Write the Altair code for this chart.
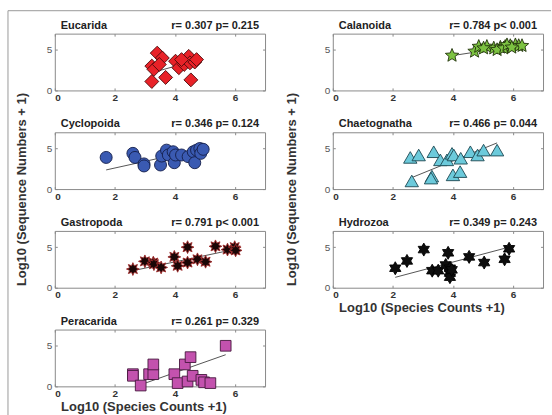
import math
import altair as alt
import pandas as pd

# ---------------- data ----------------
NAMES = ["Eucarida", "Calanoida", "Cyclopoida", "Chaetognatha", "Gastropoda", "Hydrozoa", "Peracarida"]
STATS = ["r= 0.307 p= 0.215", "r= 0.784 p< 0.001", "r= 0.346 p= 0.124", "r= 0.466 p= 0.044",
         "r= 0.791 p< 0.001", "r= 0.349 p= 0.243", "r= 0.261 p= 0.329"]

eucarida_x = [3.41, 3.58, 3.23, 3.30, 3.48, 3.23, 3.69, 4.02, 4.13, 4.31, 4.46, 4.50, 4.53, 4.66, 4.72, 4.22]
eucarida_y = [4.6, 4.0, 3.0, 2.6, 3.2, 1.1, 1.6, 3.6, 2.8, 3.2, 4.2, 3.4, 1.3, 3.5, 3.8, 3.8]
calanoida_x = [3.97, 4.72, 4.86, 5.13, 5.36, 5.58, 5.74, 5.91, 6.08, 6.19, 5.47, 5.69, 5.02, 6.30, 5.80, 5.96]
calanoida_y = [4.3, 4.8, 5.4, 5.4, 5.2, 5.3, 5.4, 5.5, 5.6, 5.5, 5.0, 5.2, 5.2, 5.5, 5.6, 5.3]
cyclopoida_x = [1.71, 2.60, 2.67, 2.97, 2.97, 3.52, 3.56, 3.72, 3.78, 3.94, 3.98, 4.02, 4.22, 4.44, 4.61,
                4.66, 4.72, 4.83, 4.86, 4.94]
cyclopoida_y = [3.9, 4.4, 3.9, 3.1, 2.85, 2.97, 4.07, 4.8, 4.2, 4.6, 3.25, 4.2, 4.2, 4.0, 4.6,
                3.25, 4.8, 5.0, 4.4, 4.9]
chaetognatha_x = [2.58, 2.86, 3.36, 3.30, 3.27, 2.63, 3.58, 3.80, 3.97, 4.03, 4.26, 4.00, 4.24, 4.58, 4.82, 5.02, 5.47]
chaetognatha_y = [3.9, 4.2, 4.6, 1.6, 1.35, 1.0, 3.6, 3.6, 4.4, 4.2, 3.8, 1.75, 2.15, 4.6, 4.2, 4.8, 4.8]
gastropoda_x = [2.60, 3.00, 3.28, 3.30, 3.54, 3.98, 4.09, 4.42, 4.42, 4.75, 5.02, 5.35, 5.75, 5.99, 6.02]
gastropoda_y = [2.3, 3.25, 3.1, 2.9, 2.5, 3.8, 2.7, 5.0, 3.1, 3.5, 3.2, 5.1, 4.7, 5.0, 4.6]
hydrozoa_x = [2.08, 2.47, 3.03, 3.31, 3.51, 3.76, 3.84, 3.90, 3.90, 3.90, 3.96, 4.54, 5.04, 5.72, 5.87]
hydrozoa_y = [2.4, 3.3, 4.7, 2.1, 2.1, 2.8, 4.3, 2.4, 1.8, 1.3, 2.2, 3.8, 3.1, 3.5, 4.8]
peracarida_x = [2.60, 2.60, 2.86, 3.14, 3.28, 3.28, 3.98, 4.09, 4.33, 4.52, 4.42, 4.59, 4.88, 4.97, 5.18, 5.69]
peracarida_y = [1.5, 1.3, 0.1, 1.5, 1.5, 2.7, 1.5, 0.4, 2.7, 3.6, 0.6, 1.3, 0.8, 0.5, 0.4, 5.0]

# fitted line end points
fit_x = [[3.2, 4.7], [4.0, 6.3], [1.71, 4.94], [2.58, 5.47], [2.6, 6.02], [2.08, 5.87], [2.86, 5.69]]
fit_y = [[2.15, 3.7], [4.3, 5.6], [2.36, 5.0], [1.34, 5.69], [2.1, 4.75], [1.28, 5.0], [0.2, 3.9]]

X_TICKS = [0, 2, 4, 6]
Y_TICKS = [0, 5]
X_TITLE = "Log10 (Species Counts +1)"
Y_TITLE = "Log10 (Sequence Numbers + 1)"

XS = [eucarida_x, calanoida_x, cyclopoida_x, chaetognatha_x, gastropoda_x, hydrozoa_x, peracarida_x]
YS = [eucarida_y, calanoida_y, cyclopoida_y, chaetognatha_y, gastropoda_y, hydrozoa_y, peracarida_y]


# ---------------- marker shapes (style only) ----------------
def star_path(n, r_in):
    pts = []
    for i in range(2 * n):
        a = -math.pi / 2 + i * math.pi / n
        r = 1.0 if i % 2 == 0 else r_in
        pts.append(f"{r * math.cos(a):.4f},{r * math.sin(a):.4f}")
    return "M" + "L".join(pts) + "Z"


PENTASTAR = star_path(5, 0.45)
HEXAGRAM = star_path(6, 0.577)
OCTOSTAR = star_path(8, 0.55)

STYLE = [
    dict(shape="diamond", size=195, fill="#e82228", stroke="#4a0a0a"),
    dict(shape=PENTASTAR, size=200, fill="#7cc241", stroke="#23330c"),
    dict(shape="circle", size=145, fill="#3a5ab2", stroke="#141e4a"),
    dict(shape="triangle-up", size=180, fill="#6ccadb", stroke="#1c4651"),
    dict(shape=OCTOSTAR, size=165, fill="#1a0606", stroke="#a02a2a"),
    dict(shape=HEXAGRAM, size=170, fill="#0d0d0d", stroke="#000000"),
    dict(shape="square", size=115, fill="#c352ae", stroke="#45183d"),
]

W, H = 211, 57
FONT = "Liberation Sans"
FRAME = "#8a8a8a"


def panel(i):
    df = pd.DataFrame({"x": XS[i], "y": YS[i]})
    fit = pd.DataFrame({"x": fit_x[i], "y": fit_y[i]})
    show_xt = NAMES[i] in ("Peracarida", "Hydrozoa")
    show_yt = NAMES[i] in ("Cyclopoida", "Chaetognatha")

    xaxis = dict(values=X_TICKS, grid=True, gridDash=[2.5, 52, 2.5, 300], gridColor=FRAME,
                 gridOpacity=1, ticks=False, domain=False, labelFontWeight="bold",
                 labelFontSize=10, labelPadding=2, labelColor="#333333", labelFont=FONT,
                 title=X_TITLE if show_xt else "")
    if show_xt:
        xaxis.update(titleX=89, titleY=20, titleBaseline="middle", titleAlign="center",
                     titleFontSize=13, titleFontWeight="bold", titleColor="#333333", titleFont=FONT)
    yaxis = dict(values=Y_TICKS, grid=True, gridDash=[2.5, 206, 2.5, 600], gridColor=FRAME,
                 gridOpacity=1, ticks=False, domain=False, labelFontSize=10, labelPadding=3,
                 labelColor="#555555", labelFont=FONT, title=Y_TITLE if show_yt else "")
    if show_yt:
        yaxis.update(titleX=-33 if i % 2 == 0 else -41, titleY=57, titleBaseline="middle",
                     titleAlign="center", titleAngle=270, titleFontSize=13, titleFontWeight="bold",
                     titleColor="#333333", titleFont=FONT)

    xenc = alt.X("x:Q", scale=alt.Scale(domain=[0, 7], nice=False, zero=False), axis=alt.Axis(**xaxis))
    yenc = alt.Y("y:Q", scale=alt.Scale(domain=[0, 7], nice=False, zero=False), axis=alt.Axis(**yaxis))

    st = STYLE[i]
    line = alt.Chart(fit).mark_line(color="#555555", strokeWidth=1).encode(x=xenc, y=yenc)
    pts = alt.Chart(df).mark_point(shape=st["shape"], size=st["size"], filled=True, fill=st["fill"],
                                   stroke=st["stroke"], strokeWidth=0.9, opacity=1).encode(x=xenc, y=yenc)
    name = alt.Chart(pd.DataFrame({"t": [NAMES[i]]})).mark_text(
        align="left", baseline="alphabetic", font=FONT, fontSize=11, fontWeight="bold", color="#222222"
    ).encode(text="t:N", x=alt.value(6), y=alt.value(-5))
    stat = alt.Chart(pd.DataFrame({"t": [STATS[i]]})).mark_text(
        align="right", baseline="alphabetic", font=FONT, fontSize=11, fontWeight="bold", color="#222222"
    ).encode(text="t:N", x=alt.value(205), y=alt.value(-5))
    layers = [line, pts, name, stat]
    if i == 0:
        one = pd.DataFrame({"k": [0]})
        top = alt.Chart(one).mark_rule(color="#9a9a9a", strokeWidth=1).encode(
            x=alt.value(-47), x2=alt.value(498), y=alt.value(-23))
        left = alt.Chart(one).mark_rule(color="#9a9a9a", strokeWidth=1).encode(
            x=alt.value(-47), y=alt.value(-23), y2=alt.value(383))
        layers += [top, left]
    return alt.layer(*layers).properties(width=W, height=H)


chart = alt.concat(
    *[panel(i) for i in range(len(NAMES))],
    columns=2,
    bounds="flush",
    spacing={"row": 42, "column": 68},
).properties(
    padding={"left": 7, "top": 9, "right": 0, "bottom": 0}
).configure_view(
    stroke=FRAME, strokeWidth=1
)

chart.save("out.html", embed_options={"renderer": "svg", "actions": False})
